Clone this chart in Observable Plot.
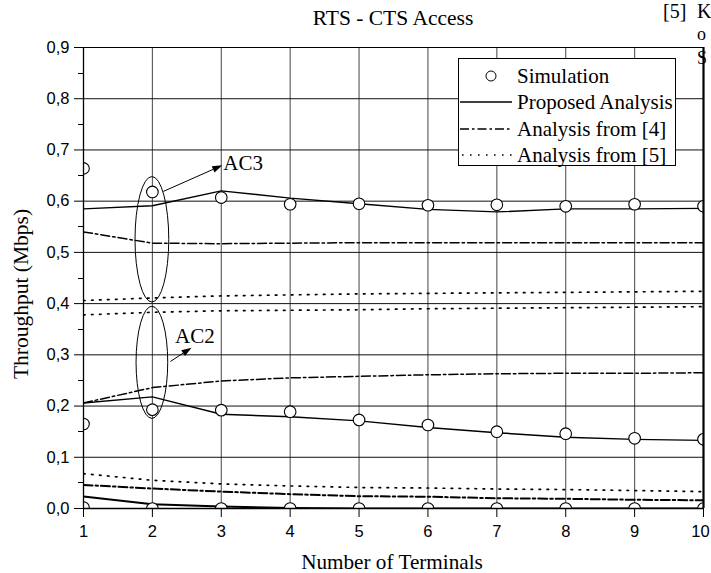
<!DOCTYPE html>
<html>
<head>
<meta charset="utf-8">
<script src="https://cdn.jsdelivr.net/npm/d3@7"></script>
<script src="https://cdn.jsdelivr.net/npm/@observablehq/plot@0.6"></script>
<style>
  html, body { margin: 0; padding: 0; background: #fff; }
  #wrap { position: relative; width: 711px; height: 573px; overflow: hidden; }
  #overlay { position: absolute; left: 0; top: 0; pointer-events: none; }
  #chart svg { display: block; }
</style>
</head>
<body>
<div id="wrap">
  <div id="chart"></div>
  <svg id="overlay" width="711" height="573"></svg>
</div>
<script>
// ---- data ----
const terminals = [1, 2, 3, 4, 5, 6, 7, 8, 9, 10];

const ac3Sim      = [0.664, 0.618, 0.607, 0.594, 0.595, 0.592, 0.593, 0.590, 0.594, 0.590];
const ac3Proposed = [0.585, 0.591, 0.620, 0.606, 0.595, 0.584, 0.579, 0.585, 0.585, 0.586];
const ac3Ref4     = [0.540, 0.518, 0.517, 0.518, 0.519, 0.519, 0.519, 0.519, 0.519, 0.519];
const ac3Ref5     = [0.406, 0.411, 0.415, 0.417, 0.419, 0.420, 0.421, 0.422, 0.423, 0.424];

const ac2Sim      = [0.165, 0.193, 0.192, 0.189, 0.173, 0.163, 0.150, 0.146, 0.137, 0.135];
const ac2Proposed = [0.206, 0.218, 0.184, 0.179, 0.171, 0.158, 0.148, 0.139, 0.135, 0.133];
const ac2Ref4     = [0.206, 0.236, 0.249, 0.255, 0.258, 0.261, 0.263, 0.264, 0.264, 0.265];
const ac2Ref5     = [0.378, 0.383, 0.386, 0.387, 0.388, 0.390, 0.391, 0.392, 0.393, 0.394];

const ac1Sim      = [0.002, 0.000, 0.000, 0.000, 0.000, 0.000, 0.000, 0.000, 0.000, 0.000];
const ac1Proposed = [0.0235, 0.0085, 0.004, 0.001, 0.000, 0.000, 0.000, 0.000, 0.000, 0.000];
const ac1Ref4     = [0.046, 0.039, 0.033, 0.028, 0.024, 0.023, 0.020, 0.019, 0.017, 0.016];
const ac1Ref5     = [0.068, 0.055, 0.048, 0.044, 0.041, 0.040, 0.038, 0.037, 0.035, 0.033];

const xTicks = [1, 2, 3, 4, 5, 6, 7, 8, 9, 10];
const yTicks = [0, 0.1, 0.2, 0.3, 0.4, 0.5, 0.6, 0.7, 0.8, 0.9];
const yTickLabels = ["0,0", "0,1", "0,2", "0,3", "0,4", "0,5", "0,6", "0,7", "0,8", "0,9"];
const yMinorTicks = [0.05, 0.15, 0.25, 0.35, 0.45, 0.55, 0.65, 0.75, 0.85];

const titleText = "RTS - CTS Access";
const xLabel = "Number of Terminals";
const yLabel = "Throughput (Mbps)";
const legendLabels = ["Simulation", "Proposed Analysis", "Analysis from [4]", "Analysis from [5]"];

// annotations (group labels, ellipses around x = 2, arrows)
const groupLabels = [
  {label: "AC3", x: 3.03, y: 0.660},
  {label: "AC2", x: 2.33, y: 0.323}
];
const ellipses = [
  {cx: 2, cy: 0.5246, rx: 0.245, ry: 0.1225},
  {cx: 2, cy: 0.2844, rx: 0.230, ry: 0.1095}
];
const arrows = [
  {x1: 2.166, y1: 0.618, x2: 3.022, y2: 0.669},
  {x1: 2.268, y1: 0.286, x2: 2.575, y2: 0.313}
];

// ---- tables ----
const rows = (ys) => terminals.map((t, i) => ({t, v: ys[i]}));
const DASHDOT = "9,3,2.5,3";
const DOT = "1.6,6.4";

const lineSolid = (ys, w = 1.4) => Plot.line(rows(ys), {x: "t", y: "v", stroke: "#000", strokeWidth: w, clip: true});
const lineDashDot = (ys, w = 1.5) => Plot.line(rows(ys), {x: "t", y: "v", stroke: "#000", strokeWidth: w, strokeDasharray: DASHDOT, clip: true});
const lineDot = (ys, w = 1.7) => Plot.line(rows(ys), {x: "t", y: "v", stroke: "#000", strokeWidth: w, strokeDasharray: DOT, clip: true});
const dots = (ys) => Plot.dot(rows(ys), {x: "t", y: "v", r: 5.8, fill: "#fff", stroke: "#000", strokeWidth: 1.1, clip: true});

function minorTicksMark(values) {
  return (index, scales) => {
    const g = d3.create("svg:g").attr("stroke", "#000").attr("stroke-width", 1);
    const x0 = scales.x(1);
    for (const v of values) {
      const y = Math.round(scales.y(v)) + 0.5;
      g.append("line").attr("x1", x0 - 5).attr("x2", x0).attr("y1", y).attr("y2", y);
    }
    return g.node();
  };
}

function ellipseMark(data) {
  return (index, scales) => {
    const g = d3.create("svg:g").attr("fill", "none").attr("stroke", "#000").attr("stroke-width", 1);
    for (const e of data) {
      const cx = scales.x(e.cx), cy = scales.y(e.cy);
      const rx = Math.abs(scales.x(e.cx + e.rx) - cx);
      const ry = Math.abs(scales.y(e.cy + e.ry) - cy);
      g.append("ellipse").attr("cx", cx).attr("cy", cy).attr("rx", rx).attr("ry", ry);
    }
    return g.node();
  };
}

function arrowMark(data) {
  return (index, scales) => {
    const g = d3.create("svg:g");
    for (const a of data) {
      const x1 = scales.x(a.x1), y1 = scales.y(a.y1), x2 = scales.x(a.x2), y2 = scales.y(a.y2);
      const ang = Math.atan2(y2 - y1, x2 - x1);
      const L = 10, W = 3.5;
      const bx = x2 - L * Math.cos(ang), by = y2 - L * Math.sin(ang);
      g.append("line").attr("x1", x1).attr("y1", y1).attr("x2", bx).attr("y2", by)
        .attr("stroke", "#000").attr("stroke-width", 1);
      const px = -Math.sin(ang) * W, py = Math.cos(ang) * W;
      g.append("polygon")
        .attr("points", `${x2},${y2} ${bx + px},${by + py} ${bx - px},${by - py}`)
        .attr("fill", "#000");
    }
    return g.node();
  };
}

const serif = "'Liberation Serif', 'Times New Roman', serif";

const chart = Plot.plot({
  width: 711,
  height: 573,
  marginLeft: 83,
  marginRight: 8,
  marginTop: 47,
  marginBottom: 65,
  style: {fontFamily: "'Liberation Sans', Arial, sans-serif", fontSize: "16.5px", color: "#000", background: "#fff"},
  x: {domain: [1, 10], ticks: xTicks, tickSize: 9, tickPadding: 8, tickFormat: d => String(d), label: null},
  y: {domain: [0, 0.9], ticks: yTicks, tickSize: 9, tickPadding: 5,
      tickFormat: d => yTickLabels[yTicks.findIndex(t => Math.abs(t - d) < 1e-9)], label: null},
  marks: [
    // grid
    Plot.ruleX(xTicks.slice(1, -1), {stroke: "#555", strokeWidth: 1.1}),
    Plot.ruleY(yTicks.slice(1, -1), {stroke: "#111", strokeWidth: 1}),
    minorTicksMark(yMinorTicks),

    // AC3
    lineDot(ac3Ref5),
    lineDashDot(ac3Ref4),
    lineSolid(ac3Proposed),
    // AC2
    lineDot(ac2Ref5),
    lineDashDot(ac2Ref4),
    lineSolid(ac2Proposed),
    // AC1
    lineDot(ac1Ref5, 1.7),
    lineDashDot(ac1Ref4, 2),
    lineSolid(ac1Proposed, 2),

    ellipseMark(ellipses),
    arrowMark(arrows),

    dots(ac3Sim),
    dots(ac2Sim),
    dots(ac1Sim),

    Plot.text(groupLabels, {x: "x", y: "y", text: "label", textAnchor: "start", lineAnchor: "bottom",
      fontFamily: serif, fontSize: 21, fill: "#000"}),

    // frame
    Plot.ruleX([1], {stroke: "#000", strokeWidth: 1.3}),
    Plot.ruleY([0], {stroke: "#000", strokeWidth: 1.3}),
    Plot.ruleY([0.9], {stroke: "#000", strokeWidth: 1.2}),
    Plot.ruleX([10], {stroke: "#000", strokeWidth: 2.2})
  ]
});
document.getElementById("chart").appendChild(chart);

// keep the last x tick label ("10") inside the picture
d3.select(chart).selectAll("text").filter(function () { return this.textContent === "10"; })
  .attr("dx", "-3");

// ---- overlay texts and legend ----
const ov = d3.select("#overlay");
ov.append("text").attr("x", 393).attr("y", 25).attr("text-anchor", "middle")
  .attr("font-family", serif).attr("font-size", 21.5).text(titleText);
ov.append("text").attr("x", 392).attr("y", 569).attr("text-anchor", "middle")
  .attr("font-family", serif).attr("font-size", 21.2).text(xLabel);
ov.append("text").attr("transform", "translate(28,294) rotate(-90)").attr("text-anchor", "middle")
  .attr("font-family", serif).attr("font-size", 21.5).text(yLabel);

// cropped fragments of neighbouring page text
ov.append("text").attr("x", 663).attr("y", 18).attr("font-family", serif).attr("font-size", 20).text("[5]");
ov.append("text").attr("x", 697).attr("y", 18).attr("font-family", serif).attr("font-size", 20).text("K");
ov.append("text").attr("x", 697).attr("y", 40).attr("font-family", serif).attr("font-size", 18).text("o");
ov.append("text").attr("x", 697).attr("y", 64).attr("font-family", serif).attr("font-size", 18).text("S");

// legend
const lg = ov.append("g");
lg.append("rect").attr("x", 458.5).attr("y", 58.5).attr("width", 217).attr("height", 107)
  .attr("fill", "#fff").attr("stroke", "#000").attr("stroke-width", 1);
const rowY = [76, 102, 129, 155];
lg.append("circle").attr("cx", 491).attr("cy", rowY[0]).attr("r", 5).attr("fill", "#fff").attr("stroke", "#000");
lg.append("line").attr("x1", 460).attr("x2", 512).attr("y1", rowY[1]).attr("y2", rowY[1]).attr("stroke", "#000").attr("stroke-width", 1.4);
lg.append("line").attr("x1", 460).attr("x2", 512).attr("y1", rowY[2]).attr("y2", rowY[2]).attr("stroke", "#000").attr("stroke-width", 1.5).attr("stroke-dasharray", DASHDOT);
lg.append("line").attr("x1", 462).attr("x2", 512).attr("y1", rowY[3]).attr("y2", rowY[3]).attr("stroke", "#000").attr("stroke-width", 1.6).attr("stroke-dasharray", DOT);
legendLabels.forEach((t, i) => {
  lg.append("text").attr("x", 517).attr("y", rowY[i] + 7).attr("font-family", serif).attr("font-size", 21).text(t);
});
</script>
</body>
</html>
